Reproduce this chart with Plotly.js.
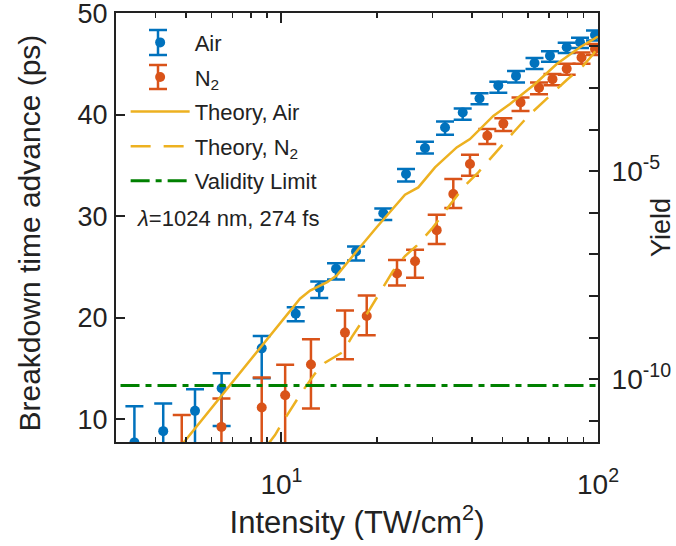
<!DOCTYPE html>
<html>
<head>
<meta charset="utf-8">
<script src="https://cdn.plot.ly/plotly-3.0.1.min.js"></script>
<style>html,body{margin:0;padding:0;background:#fff;}#chart{width:676px;height:546px;}</style>
</head>
<body>
<div id="chart"></div>
<script>
// ---- Data ----
// Air measurements: intensity (TW/cm^2), breakdown time advance (ps), error up / down
const airI    = [3.43, 4.23, 5.33, 6.47, 8.66, 11.09, 13.16, 14.87, 17.20, 20.97, 24.74, 28.40, 32.86, 37.37, 42.23, 48.42, 55.08, 63.01, 70.51, 79.63, 87.73, 97.84];
const airT    = [7.71, 8.82, 10.82, 13.05, 16.98, 20.39, 22.95, 24.82, 26.52, 30.30, 34.16, 36.72, 38.74, 40.22, 41.61, 42.89, 43.83, 45.10, 45.82, 46.65, 47.14, 47.86];
const airErrUp   = [3.57, 2.72, 2.13, 1.47, 1.21, 0.65, 0.62, 0.55, 0.49, 0.47, 0.49, 0.62, 0.59, 0.39, 0.51, 0.37, 0.49, 0.50, 0.45, 0.45, 0.45, 0.45];
const airErrDown = [9.0, 6.8, 5.3, 3.72, 2.95, 0.73, 1.02, 1.05, 0.88, 0.67, 0.73, 0.53, 0.72, 0.72, 0.57, 0.71, 0.66, 0.60, 0.60, 0.55, 0.55, 0.55];

// N2 measurements
const n2I    = [4.84, 6.46, 8.66, 10.27, 12.39, 15.87, 18.59, 23.17, 26.42, 30.93, 34.90, 39.40, 44.69, 50.22, 56.91, 65.11, 71.81, 79.63, 88.70, 97.84];
const n2T    = [7.20, 9.24, 11.15, 12.36, 15.39, 18.53, 20.16, 24.36, 25.57, 28.63, 32.19, 35.14, 37.93, 39.13, 41.22, 42.67, 43.51, 44.54, 45.64, 46.48];
const n2ErrUp   = [3.20, 2.79, 2.95, 3.00, 2.48, 2.19, 2.04, 1.33, 1.12, 1.52, 1.47, 0.91, 0.66, 0.53, 0.47, 0.50, 0.50, 0.50, 0.50, 0.50];
const n2ErrDown = [8.0, 7.0, 7.0, 7.0, 4.34, 2.63, 1.90, 1.18, 1.63, 1.36, 1.38, 1.15, 0.81, 0.72, 0.84, 0.64, 0.60, 0.60, 0.60, 0.60];

// Theory curves
const thAirI = [4.64, 7.95, 10.09, 11.44, 12.31, 13.89, 14.94, 16.07, 17.70, 19.99, 24.56, 27.05, 30.55, 35.77, 39.40, 46.69, 52.72, 63.24, 74.06, 87.73, 100];
const thAirT = [6.76, 15.80, 19.73, 21.87, 22.68, 23.47, 24.16, 25.31, 26.94, 28.91, 32.12, 32.84, 34.81, 36.78, 37.60, 39.89, 41.07, 43.04, 45.00, 46.65, 47.71];
const thN2I = [9.07, 9.54, 10.04, 11.03, 11.58, 12.76, 13.72, 15.64, 16.67, 18.35, 19.46, 21.23, 22.51, 24.56, 26.74, 29.83, 32.08, 35.33, 37.53, 41.86, 45.02, 50.22, 54.00, 60.24, 66.06, 73.14, 79.63, 89.86, 96.65, 100];
const thN2T = [7.54, 8.43, 9.61, 11.54, 12.65, 14.49, 15.56, 16.62, 18.09, 20.06, 21.36, 23.27, 24.60, 26.08, 27.11, 28.75, 30.06, 31.70, 32.84, 34.32, 35.47, 37.11, 38.25, 39.89, 41.07, 42.32, 43.43, 44.84, 45.99, 46.65];

// Validity limit (yield, right axis)
const validI = [3.1, 100];
const validYield = [7e-11, 7e-11];

// Tick labels and titles
const xTickVals = [10, 100];
const xTickText = ['10<sup>1</sup>', '10<sup>2</sup>'];
const xMinorVals = [3, 4, 5, 6, 7, 8, 9, 20, 30, 40, 50, 60, 70, 80, 90];
const yTickVals = [10, 20, 30, 40, 50];
const y2TickVals = [1e-11, 1e-10, 1e-9, 1e-8, 1e-7, 1e-6, 1e-5, 1e-4, 1e-3, 1e-2];
const y2TickText = ['', '10<sup>-10</sup>', '', '', '', '', '10<sup>-5</sup>', '', '', ''];
const yTitle = 'Breakdown time advance (ps)';

// ---- Styling ----
const FONT = 'Liberation Sans, Arial, Helvetica, sans-serif';
const BLUE = '#0072BD', ORANGE = '#D95319', YELLOW = '#EDB120', GREEN = '#008000';

const traces = [
  {
    x: airI, y: airT, name: 'Air', type: 'scatter', mode: 'markers',
    legendgroup: 'g1',
    marker: {color: BLUE, size: 10},
    error_y: {type: 'data', symmetric: false, array: airErrUp, arrayminus: airErrDown,
              color: BLUE, thickness: 2.5, width: 9}
  },
  {
    x: n2I, y: n2T, name: 'N<sub>2</sub>', type: 'scatter', mode: 'markers',
    legendgroup: 'g2',
    marker: {color: ORANGE, size: 10},
    error_y: {type: 'data', symmetric: false, array: n2ErrUp, arrayminus: n2ErrDown,
              color: ORANGE, thickness: 2.5, width: 9}
  },
  {
    x: thAirI, y: thAirT, name: 'Theory, Air', type: 'scatter', mode: 'lines',
    legendgroup: 'g3',
    line: {color: YELLOW, width: 2.5}
  },
  {
    x: thN2I, y: thN2T, name: 'Theory, N<sub>2</sub>', type: 'scatter', mode: 'lines',
    legendgroup: 'g4',
    line: {color: YELLOW, width: 2.5, dash: '20px,13px'}
  },
  {
    x: validI, y: validYield, name: 'Validity Limit', type: 'scatter', mode: 'lines',
    yaxis: 'y2', legendgroup: 'g5',
    line: {color: GREEN, width: 3, dash: '19px,6px,6px,6px'}
  }
];

// error-bar glyphs for the legend entries of the two measured series (paper coords)
function legendErrGlyph(cx, yTop, yBot, color) {
  const px = v => (v - 116) / 482, py = v => (442 - v) / 429;
  const base = {type: 'line', xref: 'paper', yref: 'paper', line: {color: color, width: 2.5}};
  return [
    Object.assign({}, base, {x0: px(cx), x1: px(cx), y0: py(yTop), y1: py(yBot)}),
    Object.assign({}, base, {x0: px(cx - 9), x1: px(cx + 9), y0: py(yTop), y1: py(yTop)}),
    Object.assign({}, base, {x0: px(cx - 9), x1: px(cx + 9), y0: py(yBot), y1: py(yBot)})
  ];
}

const layout = {
  width: 676, height: 546,
  margin: {l: 116, r: 78, t: 13, b: 104},
  paper_bgcolor: '#ffffff', plot_bgcolor: '#ffffff',
  font: {family: FONT, color: '#000', size: 20},
  showlegend: true,
  legend: {
    x: 0.02, y: 0.98, xanchor: 'left', yanchor: 'top',
    bgcolor: 'rgba(0,0,0,0)', borderwidth: 0,
    font: {family: FONT, size: 22, color: '#222'},
    traceorder: 'grouped', tracegroupgap: 3, itemwidth: 59
  },
  shapes: legendErrGlyph(158, 30, 55, BLUE).concat(legendErrGlyph(158, 65, 89, ORANGE)),
  xaxis: {
    type: 'log', range: [Math.log10(3), 2],
    tickmode: 'array', tickvals: xTickVals, ticktext: xTickText,
    ticks: 'inside', ticklen: 10, tickwidth: 2, tickcolor: '#222',
    minor: {tickmode: 'array', tickvals: xMinorVals, ticks: 'inside', ticklen: 5, tickwidth: 1.5, tickcolor: '#222'},
    showline: true, linewidth: 2, linecolor: '#222', mirror: 'ticks',
    showgrid: false, zeroline: false,
    tickfont: {family: FONT, size: 28, color: '#222'},
    ticklabelstandoff: 16, ticklabeloverflow: 'allow',
    title: {text: 'Intensity (TW/cm<sup>2</sup>)', font: {family: FONT, size: 31, color: '#222'}, standoff: 7}
  },
  yaxis: {
    range: [7.75, 50.03],
    tickmode: 'array', tickvals: yTickVals,
    ticks: 'inside', ticklen: 9, tickwidth: 2, tickcolor: '#222',
    showline: true, linewidth: 2, linecolor: '#222', mirror: false,
    showgrid: false, zeroline: false,
    tickfont: {family: FONT, size: 27, color: '#222'},
    ticklabelstandoff: 1, ticklabeloverflow: 'allow'
  },
  yaxis2: {
    type: 'log', overlaying: 'y', side: 'right', range: [-11.51, -1.2],
    tickmode: 'array', tickvals: y2TickVals, ticktext: y2TickText,
    ticks: 'inside', ticklen: 9, tickwidth: 2, tickcolor: '#222',
    showline: true, linewidth: 2, linecolor: '#222',
    showgrid: false, zeroline: false,
    tickfont: {family: FONT, size: 28, color: '#222'},
    ticklabelstandoff: 6, ticklabeloverflow: 'allow',
    title: {text: 'Yield', font: {family: FONT, size: 27, color: '#222'}, standoff: 10}
  },
  annotations: [
    {
      xref: 'paper', yref: 'paper', x: 0.04, y: 0.52, xanchor: 'left', yanchor: 'middle',
      text: '<i>λ</i>=1024 nm, 274 fs', showarrow: false,
      font: {family: FONT, size: 22, color: '#222'}
    },
    {
      xref: 'paper', yref: 'paper', x: (30 - 116) / 482, y: 0.486, xanchor: 'center', yanchor: 'middle',
      text: yTitle, textangle: -90, showarrow: false,
      font: {family: FONT, size: 30, color: '#222'}
    }
  ]
};

Plotly.newPlot('chart', traces, layout, {staticPlot: true, displayModeBar: false});
</script>
</body>
</html>
